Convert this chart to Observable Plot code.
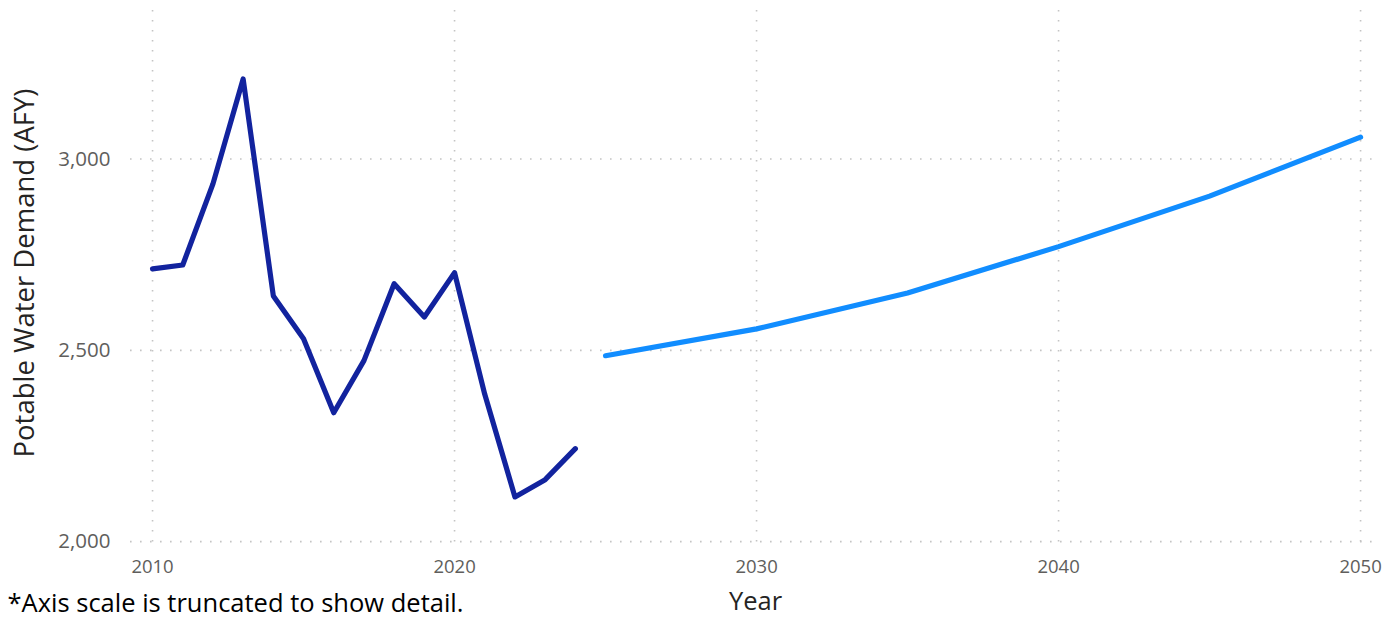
<!DOCTYPE html>
<html>
<head>
<meta charset="utf-8">
<script src="https://cdn.jsdelivr.net/npm/d3@7"></script>
<script src="https://cdn.jsdelivr.net/npm/@observablehq/plot@0.6"></script>
<style>
  html, body { margin: 0; padding: 0; background: #fff; }
  #chart { width: 1398px; height: 622px; }
</style>
</head>
<body>
<div id="chart"></div>
<script>
const histYears = [2010, 2011, 2012, 2013, 2014, 2015, 2016, 2017, 2018, 2019, 2020, 2021, 2022, 2023, 2024];
const histValues = [2713, 2723, 2935, 3209, 2642, 2530, 2337, 2473, 2674, 2587, 2703, 2385, 2117, 2162, 2243];
const projYears = [2025, 2030, 2035, 2040, 2045, 2050];
const projValues = [2486, 2556, 2650, 2771, 2903, 3057];
const xTicks = [2010, 2020, 2030, 2040, 2050];
const yTicks = [2000, 2500, 3000];
const yLabel = "Potable Water Demand (AFY)";
const xLabel = "Year";
const footnote = "*Axis scale is truncated to show detail.";

const hist = histYears.map((x, i) => ({x, y: histValues[i]}));
const proj = projYears.map((x, i) => ({x, y: projValues[i]}));

const grid = {stroke: "#c4c4c4", strokeOpacity: 1, strokeWidth: 1.6, strokeDasharray: "1.6,8.4"};

const chart = Plot.plot({
  width: 1398,
  height: 622,
  marginLeft: 130,
  marginRight: 18,
  marginTop: 10,
  marginBottom: 77,
  style: {fontFamily: "'Open Sans', 'Noto Sans', sans-serif", background: "#fff"},
  x: {domain: [2009.27, 2050.66]},
  y: {domain: [1990, 3388]},
  marks: [
    Plot.gridY(yTicks, {...grid}),
    Plot.gridX(xTicks, {...grid}),
    Plot.axisY(yTicks, {tickSize: 0, tickPadding: 20, tickFormat: d3.format(","), fontSize: 20.5, fill: "#605E5C", label: null}),
    Plot.axisX(xTicks, {tickSize: 0, tickPadding: 14, tickFormat: d => String(d), fontSize: 18.5, fill: "#605E5C", label: null}),
    Plot.line(hist, {x: "x", y: "y", stroke: "#12239E", strokeWidth: 5.2, strokeLinejoin: "round", strokeLinecap: "round"}),
    Plot.line(proj, {x: "x", y: "y", stroke: "#118DFF", strokeWidth: 5.2, strokeLinejoin: "round", strokeLinecap: "round"}),
    Plot.text([yLabel], {frameAnchor: "left", textAnchor: "middle", dx: -105, dy: -5, rotate: -90, fontSize: 27.5, fill: "#252423"}),
    Plot.text([xLabel], {frameAnchor: "bottom", dy: 64, fontSize: 25.5, fill: "#252423"}),
    Plot.text([footnote], {frameAnchor: "bottom-left", dx: -123, dy: 66, textAnchor: "start", fontSize: 25.5, fill: "#000"})
  ]
});
document.getElementById("chart").appendChild(chart);
</script>
</body>
</html>
